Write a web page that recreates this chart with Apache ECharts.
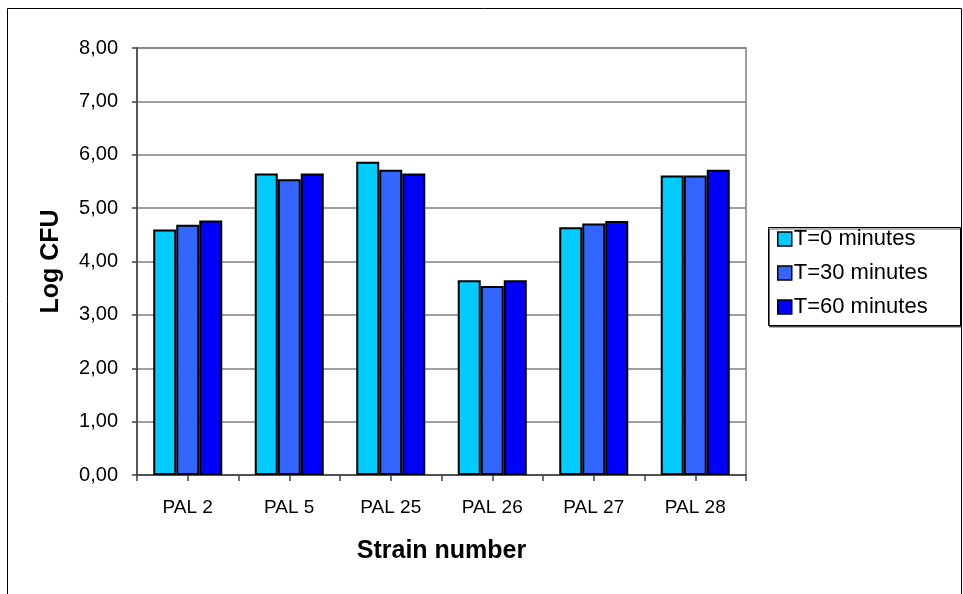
<!DOCTYPE html>
<html>
<head>
<meta charset="utf-8">
<script src="https://cdn.jsdelivr.net/npm/echarts@6/dist/echarts.min.js"></script>
<style>
  html, body { margin: 0; padding: 0; background: #fff; }
  #chart { width: 963px; height: 594px; }
</style>
</head>
<body>
<div id="chart"></div>
<script>
// Strains on the category axis
const strains = ['PAL 2', 'PAL 5', 'PAL 25', 'PAL 26', 'PAL 27', 'PAL 28'];

// Log CFU per strain at each sampling time
const t0 = [4.60, 5.65, 5.87, 3.65, 4.64, 5.61];
const t30 = [4.69, 5.54, 5.72, 3.54, 4.71, 5.61];
const t60 = [4.77, 5.65, 5.65, 3.65, 4.76, 5.72];

const seriesNames = ['T=0 minutes', 'T=30 minutes', 'T=60 minutes'];

// Value axis labels (decimal comma)
const yTickLabels = ['0,00', '1,00', '2,00', '3,00', '4,00', '5,00', '6,00', '7,00', '8,00'];

const font = '"Liberation Sans", Arial, sans-serif';
const colors = ['#00CCFF', '#3366FF', '#0000FF'];

const chart = echarts.init(document.getElementById('chart'), null, { renderer: 'canvas' });

function barSeries(name, data, color) {
  return {
    name: name,
    type: 'bar',
    data: data,
    xAxisIndex: 0,
    barGap: '0%',
    barCategoryGap: '32%',
    itemStyle: { color: color, borderColor: '#000', borderWidth: 2 },
    emphasis: { disabled: true },
    animation: false
  };
}

chart.setOption({
  animation: false,
  textStyle: { fontFamily: font },
  grid: { left: 137, top: 48, right: 217, bottom: 119, show: true, borderColor: '#808080', borderWidth: 1.5, backgroundColor: 'transparent' },
  graphic: [
    { type: 'rect', shape: { x: 7.5, y: 8.5, width: 954, height: 620 }, style: { fill: 'none', stroke: '#000', lineWidth: 1 }, silent: true, z: -1 },
    { type: 'rect', shape: { x: 768.5, y: 227.5, width: 192, height: 98 }, style: { fill: '#fff', stroke: '#000', lineWidth: 1, shadowColor: 'rgba(0,0,0,0.6)', shadowOffsetX: 1, shadowOffsetY: 1.5 }, silent: true, z: 0 }
  ],
  legend: {
    orient: 'vertical',
    left: 773,
    top: 226,
    padding: [2, 4, 4, 4],
    itemGap: 12,
    itemWidth: 14,
    itemHeight: 14,
    icon: 'rect',
    selectedMode: false,
    data: seriesNames,
    itemStyle: { borderColor: '#000', borderWidth: 1.5 },
    textStyle: { fontFamily: font, fontSize: 22, color: '#000', padding: [0, 0, 0, -3] },
    z: 5
  },
  xAxis: [
    {
      type: 'category',
      data: strains,
      name: 'Strain number',
      nameLocation: 'middle',
      nameGap: 64,
      nameTextStyle: { fontFamily: font, fontSize: 25, fontWeight: 'bold', color: '#000' },
      axisLine: { lineStyle: { color: '#404040', width: 1.5 } },
      axisTick: { show: true, length: 6, lineStyle: { color: '#404040', width: 1.5 } },
      axisLabel: { fontFamily: font, fontSize: 19, color: '#000', margin: 23 },
      splitLine: { show: false }
    },
    {
      type: 'category',
      data: strains,
      position: 'bottom',
      axisLine: { show: false },
      axisTick: { show: true, alignWithLabel: true, length: 6, lineStyle: { color: '#404040', width: 1.5 } },
      axisLabel: { show: false },
      splitLine: { show: false }
    }
  ],
  yAxis: {
    type: 'value',
    min: 0,
    max: 8,
    interval: 1,
    name: 'Log CFU',
    nameLocation: 'middle',
    nameGap: 73,
    nameRotate: 90,
    nameTextStyle: { fontFamily: font, fontSize: 25, fontWeight: 'bold', color: '#000' },
    axisLine: { show: true, lineStyle: { color: '#404040', width: 1.5 } },
    axisTick: { show: true, length: 5, lineStyle: { color: '#404040', width: 1.5 } },
    axisLabel: {
      fontFamily: font, fontSize: 20, color: '#000', margin: 19,
      formatter: function (v) { return yTickLabels[Math.round(v)]; }
    },
    splitLine: { show: true, lineStyle: { color: '#808080', width: 1.5 } }
  },
  series: [
    barSeries(seriesNames[0], t0, colors[0]),
    barSeries(seriesNames[1], t30, colors[1]),
    barSeries(seriesNames[2], t60, colors[2])
  ]
});
</script>
</body>
</html>
